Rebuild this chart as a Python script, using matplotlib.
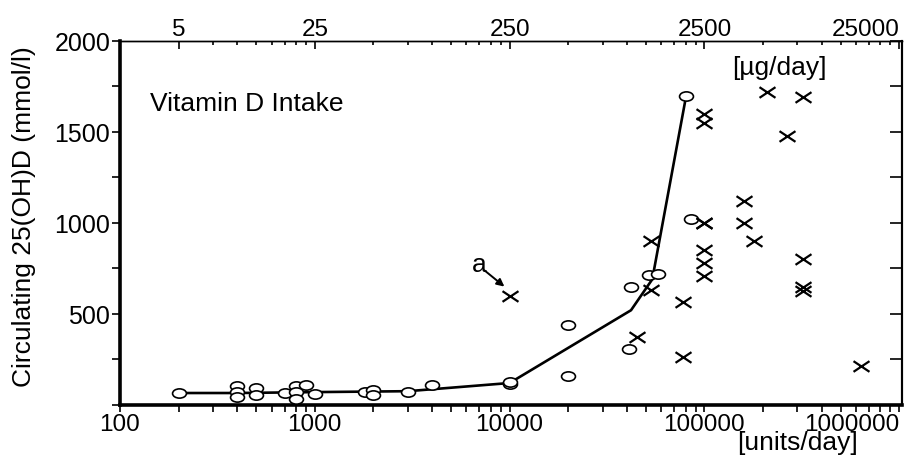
import matplotlib
matplotlib.use("Agg")
import matplotlib.pyplot as plt
from matplotlib.path import Path
from matplotlib.transforms import Affine2D
from matplotlib.ticker import FixedLocator, LogLocator, NullFormatter

plt.rcParams["font.family"] = ["Liberation Sans", "DejaVu Sans"]

# intake in units/day, serum level in mmol/l
circle_x = [200, 400, 400, 400, 500, 500, 700, 800, 800, 800, 900, 1000,
            1800, 2000, 2000, 3000, 4000, 10000, 10000,
            20000, 20000, 41000, 42000, 52000, 58000, 80000, 85000]
circle_y = [65, 105, 70, 45, 95, 55, 65, 105, 70, 30, 110, 60,
            70, 80, 55, 70, 110, 115, 125,
            440, 160, 305, 645, 715, 720, 1700, 1020]

cross_x = [10000, 45000, 53000, 53000, 78000, 78000,
           100000, 100000, 100000, 100000, 100000, 100000, 100000,
           160000, 160000, 180000, 210000, 265000,
           320000, 320000, 320000, 320000, 640000]
cross_y = [600, 375, 630, 900, 565, 265,
           1600, 1550, 1000, 1000, 850, 780, 710,
           1120, 1000, 900, 1720, 1480,
           1690, 800, 645, 625, 215]

curve_x = [200, 400, 1000, 3000, 10000, 42000, 54000, 80000]
curve_y = [65, 65, 70, 75, 120, 520, 690, 1680]

unit_ticks = [100, 1000, 10000, 100000, 1000000]
unit_labels = ["100", "1000", "10000", "100000", "1000000"]
ug_ticks = [200, 1000, 10000, 100000, 1000000]
ug_labels = ["5", "25", "250", "2500", "25000"]
y_major = [500, 1000, 1500, 2000]
y_minor = [0, 250, 750, 1250, 1750]

ellipse = Path.unit_circle().transformed(Affine2D().scale(1.5, 1.0))
cross = Path([(-1.5, -1), (1.5, 1), (-1.5, 1), (1.5, -1)],
             [Path.MOVETO, Path.LINETO, Path.MOVETO, Path.LINETO])

fig = plt.figure(figsize=(9.09, 4.56), dpi=100)
ax = fig.add_axes([0.132, 0.110, 0.860, 0.798])

ax.plot(curve_x, curve_y, color="black", lw=1.9, zorder=2)
ax.plot(circle_x, circle_y, ls="none", marker=ellipse, ms=10,
        mfc="white", mec="black", mew=1.2, zorder=3)
ax.plot(cross_x, cross_y, ls="none", marker=cross, ms=11.5,
        color="black", mew=1.6, zorder=3)

# "a" marks the outlier, with a short arrow pointing at it
ax.text(7000, 775, "a", fontsize=19, ha="center", va="center")
ax.annotate("", xy=(9400, 650), xytext=(7450, 738),
            arrowprops=dict(arrowstyle="-|>", color="black", lw=1.4,
                            mutation_scale=11, shrinkA=0, shrinkB=0))

ax.set_xscale("log")
ax.set_xlim(100, 1.03e6)
ax.set_ylim(0, 2000)

ax.xaxis.set_major_locator(FixedLocator(unit_ticks))
ax.set_xticklabels(unit_labels)
ax.xaxis.set_minor_locator(LogLocator(base=10, subs=range(2, 10)))
ax.xaxis.set_minor_formatter(NullFormatter())
ax.set_yticks(y_major)
ax.set_yticks(y_minor, minor=True)
ax.get_xticklabels()[-1].set_horizontalalignment("right")

ax.tick_params(axis="x", which="both", direction="out", length=5, width=1.2,
               labelsize=17.5, pad=1)
ax.tick_params(axis="y", which="both", direction="out", length=6, width=1.2,
               labelsize=18, pad=1)

top = ax.secondary_xaxis("top")
top.set_xticks(ug_ticks, labels=ug_labels)
top.xaxis.set_minor_locator(LogLocator(base=10, subs=range(2, 10)))
top.xaxis.set_minor_formatter(NullFormatter())
top.tick_params(which="major", direction="in", length=6, width=1.2,
                labelsize=17.5, pad=1)
top.tick_params(which="minor", direction="in", length=3, width=1.2)
top.spines["top"].set_linewidth(1.0)
top.xaxis.get_majorticklabels()[-1].set_horizontalalignment("right")

right = ax.secondary_yaxis("right")
right.set_yticks(y_major + y_minor, labels=[])
right.tick_params(direction="in", length=9, width=1.2)
right.spines["right"].set_linewidth(1.5)

ax.spines["left"].set_linewidth(2.6)
ax.spines["bottom"].set_linewidth(2.6)
ax.spines["top"].set_linewidth(1.0)
ax.spines["right"].set_linewidth(1.5)

ax.set_ylabel("Circulating 25(OH)D (mmol/l)", fontsize=19)
ax.yaxis.set_label_coords(-0.108, 0.52)
ax.text(0.038, 0.83, "Vitamin D Intake", transform=ax.transAxes,
        fontsize=19, ha="left", va="center")
ax.text(0.844, 0.929, "[µg/day]", transform=ax.transAxes,
        fontsize=19, ha="center", va="center")
fig.text(0.877, 0.028, "[units/day]", fontsize=19, ha="center", va="center")

fig.savefig("out.png", dpi=100)
